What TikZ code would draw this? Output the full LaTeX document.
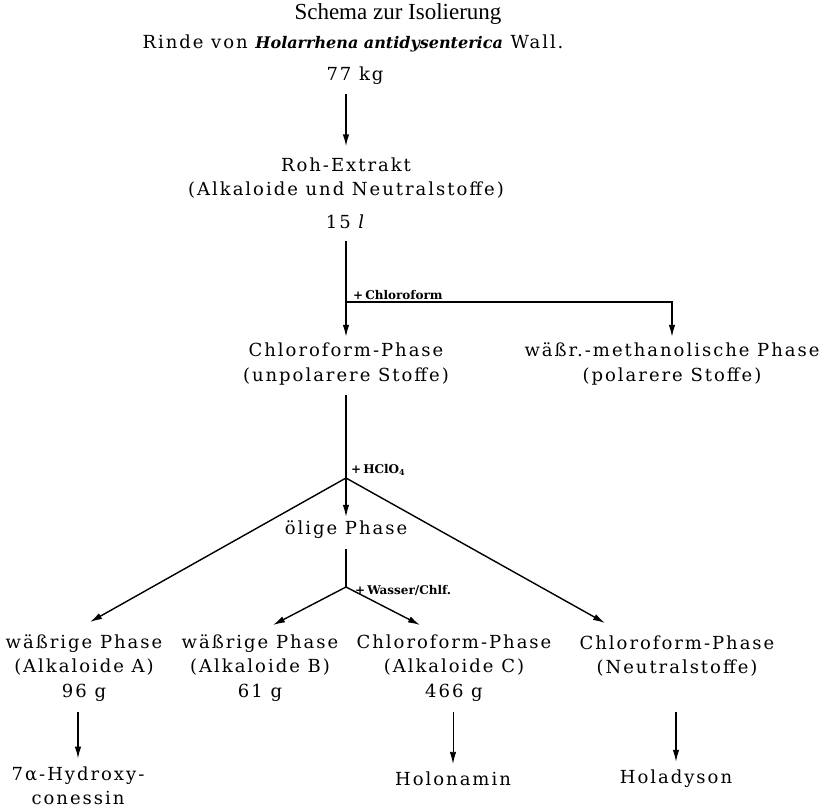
\documentclass[tikz,border=0pt]{standalone}
\usepackage{fontspec}
\setmainfont{DejaVu Serif}[LetterSpace=11]
\newfontfamily\titelfont{Liberation Serif}
\usetikzlibrary{arrows.meta}

\begin{document}
\begin{tikzpicture}[
    x=1pt, y=-1pt,
    stoff/.style={align=center, inner sep=0pt, font=\fontsize{18}{24.5}\selectfont},
    zusatz/.style={inner sep=1pt, font=\fontsize{12}{13}\selectfont\bfseries\addfontfeature{LetterSpace=0}},
    pfeil/.style={-{Latex[length=12pt,width=6.5pt]}, line width=1.4pt},
    linie/.style={line width=1.2pt},
]
\useasboundingbox (0,0) rectangle (831,811);

% Kopf
\node[font=\titelfont\fontsize{23}{26}\selectfont] (titel) at (398,14) {Schema zur Isolierung};
\node[stoff] (rinde) at (353,43) {Rinde von {\fontsize{16}{24}\selectfont\addfontfeature{LetterSpace=0}\bfseries\itshape Holarrhena antidysenterica} Wall.};
\node[stoff] (menge) at (355,76) {77 kg};

% Extrakt
\node[stoff] (roh) at (346,178) {Roh-Extrakt\\(Alkaloide und Neutralstoffe)};
\node[stoff] (vol) at (346,222) {15 \textit{l}};

% Verteilung mit Chloroform
\coordinate (k1) at (346,302);
\node[stoff] (chl) at (346,364) {Chloroform-Phase\\(unpolarere Stoffe)};
\node[stoff] (wmp) at (672,364) {wäßr.-methanolische Phase\\(polarere Stoffe)};

% Faellung mit HClO4
\coordinate (k2) at (346,478);
\node[stoff] (oel) at (346,530) {ölige Phase};
\coordinate (k3) at (346,587);

% Fraktionen
\node[stoff] (wa) at (84,668) {wäßrige Phase\\(Alkaloide A)\\96 g};
\node[stoff] (wb) at (260,668) {wäßrige Phase\\(Alkaloide B)\\61 g};
\node[stoff] (cc) at (454,668) {Chloroform-Phase\\(Alkaloide C)\\466 g};
\node[stoff] (cn) at (677,656) {Chloroform-Phase\\(Neutralstoffe)};

% Reinstoffe
\node[stoff] (hyd) at (78,786) {7α-Hydroxy-\\conessin};
\node[stoff] (holon) at (453,779) {Holonamin};
\node[stoff] (holad) at (676,779) {Holadyson};

% Pfeile
\draw[pfeil, shorten <=9pt, shorten >=11pt] (menge.south -| roh) -- (roh.north);
\draw[linie, shorten <=12pt] (vol.south) -- (k1);
\draw[pfeil, shorten >=6pt] (k1) -- (chl.north);
\draw[pfeil, shorten >=6pt] (k1) -| (wmp.north);
\node[zusatz, anchor=south west, xshift=6pt, yshift=1pt] (chlf) at (k1) {+\,Chloroform};

\draw[linie, shorten <=10pt] (chl.south) -- (k2);
\node[zusatz, anchor=south west, xshift=4pt, yshift=1pt] (hclo) at (k2) {+\,HClO\textsubscript{4}};
\draw[pfeil, shorten >=4pt] (k2) -- (oel.north);
\coordinate (ea) at (90,622);
\coordinate (en) at (605,623);
\draw[pfeil] (k2) -- (ea);
\draw[pfeil] (k2) -- (en);

\draw[linie, shorten <=10pt] (oel.south) -- (k3);
\node[zusatz, anchor=west, xshift=8pt, yshift=-3pt] (wasser) at (k3) {+\,Wasser/Chlf.};
\coordinate (eb) at (273,625);
\coordinate (ec) at (420,625);
\draw[pfeil] (k3) -- (eb);
\draw[pfeil] (k3) -- (ec);

\draw[pfeil, shorten <=10pt, shorten >=8pt] (wa.south -| hyd) -- (hyd.north);
\draw[pfeil, line width=0.9pt, shorten <=10pt, shorten >=8pt] (cc.south -| holon) -- (holon.north);
\draw[pfeil, shorten <=10pt, shorten >=8pt] (cc.south -| holad) -- (holad.north);

\end{tikzpicture}
\end{document}
